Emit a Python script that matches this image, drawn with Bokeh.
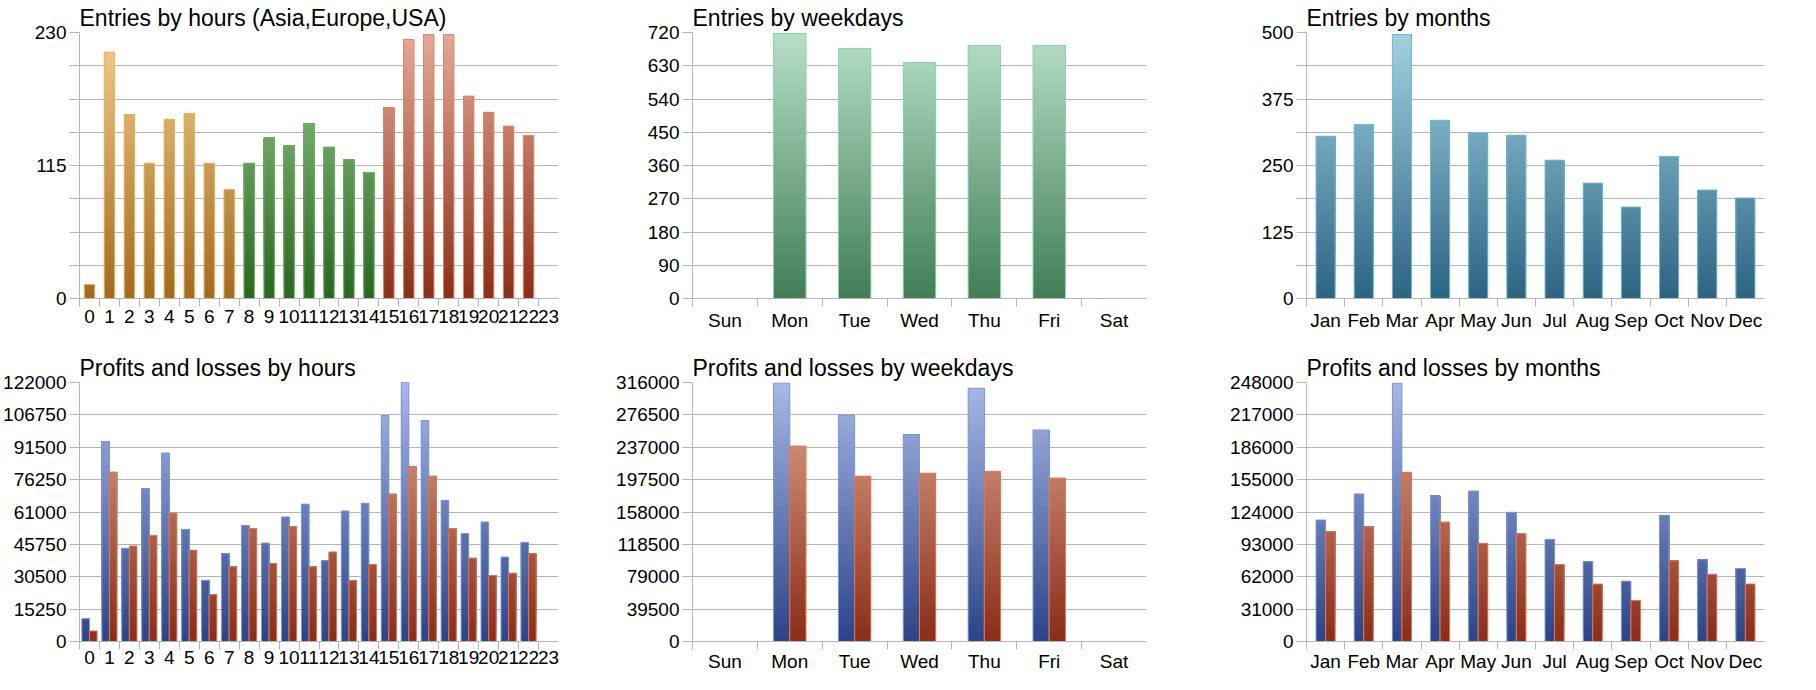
from bokeh.plotting import figure
from bokeh.layouts import row, column
from bokeh.models import FixedTicker, Range1d, BasicTickFormatter
from bokeh.embed import file_html
from bokeh.resources import INLINE

# data
hours = [str(h) for h in range(24)]
hour_zone = ["Asia"] * 8 + ["Europe"] * 7 + ["USA"] * 9
entries_hours = [12, 213, 159, 117, 155, 160, 117, 94, 117, 139, 132, 151, 131, 120,
                 109, 165, 224, 228, 228, 175, 161, 149, 141, 0]
profit_hours = [10700, 94200, 43900, 72000, 88800, 52800, 28800, 41300, 54600, 46400,
                58700, 64700, 38100, 61500, 65100, 106400, 122000, 104000, 66500, 50900,
                56300, 39800, 46700, 0]
loss_hours = [5000, 79800, 45000, 50000, 60500, 43000, 22000, 35200, 53200, 36800,
              54100, 35200, 42200, 28800, 36300, 69500, 82500, 77900, 53200, 39300,
              31100, 32200, 41300, 0]

weekdays = ["Sun", "Mon", "Tue", "Wed", "Thu", "Fri", "Sat"]
entries_weekdays = [0, 717, 677, 639, 685, 685, 0]
profit_weekdays = [0, 315500, 276200, 252500, 308900, 258100, 0]
loss_weekdays = [0, 238400, 201700, 205300, 207600, 199400, 0]

months = ["Jan", "Feb", "Mar", "Apr", "May", "Jun", "Jul", "Aug", "Sep", "Oct", "Nov", "Dec"]
entries_months = [305, 327, 496, 335, 312, 307, 260, 217, 172, 267, 204, 189]
profit_months = [116300, 141300, 247400, 139500, 144100, 123700, 97700, 76400, 57800,
                 120900, 78200, 69900]
loss_months = [105100, 109800, 162000, 114400, 94000, 103300, 73600, 55000, 39300,
               77300, 64300, 55000]

FONT = "Liberation Sans"
GRID = "#b4b4b4"

# (bottom colour, top colour, outline)
zone_colors = {
    "Asia": ("#a26a1e", "#f3cd8f", "#edb45a"),
    "Europe": ("#2a661e", "#98cc92", "#70b468"),
    "USA": ("#8a2e18", "#e4aa98", "#e08468"),
}
week_color = ("#427d56", "#b6e0c8", "#8ed2ac")
month_color = ("#2d6482", "#a2d2e2", "#6ebcd8")
profit_color = ("#2b4486", "#a8b8e6", "#7c98de")
loss_color = ("#8a2c18", "#e0a990", "#e07a5a")


def mix(c1, c2, f):
    a = [int(c1[i:i + 2], 16) for i in (1, 3, 5)]
    b = [int(c2[i:i + 2], 16) for i in (1, 3, 5)]
    return "#%02x%02x%02x" % tuple(round(x + (y - x) * f) for x, y in zip(a, b))


def grad_bars(p, xs, vals, width, ymax, cols, n=40):
    # vertical gradient tied to the plot height, drawn as overlapping slices
    bx, bb, bt, bc = [], [], [], []
    for k in range(n):
        b = ymax * k / n
        c = mix(cols[0], cols[1], (k + 0.5) / n)
        for x, v in zip(xs, vals):
            if v > b:
                bx.append(x)
                bb.append(b)
                bt.append(v)
                bc.append(c)
    p.vbar(x=bx, width=width, bottom=bb, top=bt, fill_color=bc, line_color=None)
    ox = [x for x, v in zip(xs, vals) if v > 0]
    ov = [v for v in vals if v > 0]
    p.vbar(x=ox, width=width, bottom=0, top=ov, fill_color=None,
           line_color=cols[2], line_width=1)


def make_fig(title, labels, ymax, nlines, every, w, bl, br, h, bt, bb, xs):
    n = len(labels)
    p = figure(width=w, height=h, output_backend="svg", toolbar_location=None,
               x_range=Range1d(0, n), y_range=Range1d(0, ymax),
               min_border_left=bl, min_border_right=br,
               min_border_top=bt, min_border_bottom=bb)
    p.title.text = title
    p.title.text_font = FONT
    p.title.text_font_size = "23px"
    p.title.text_font_style = "normal"
    p.title.text_color = "#000000"
    p.title.standoff = 3
    p.outline_line_color = None
    p.background_fill_color = "white"
    p.border_fill_color = "white"

    step = ymax / nlines
    vals = [step * k for k in range(nlines + 1)]
    vals = [int(v) if float(v).is_integer() else v for v in vals]
    major = [v for k, v in enumerate(vals) if k % every == 0]
    minor = [v for k, v in enumerate(vals) if k % every != 0]
    yt = FixedTicker(ticks=major, minor_ticks=minor)
    ya = p.yaxis[0]
    ya.ticker = yt
    ya.formatter = BasicTickFormatter(use_scientific=False)
    ya.axis_line_color = GRID
    ya.major_tick_line_color = GRID
    ya.minor_tick_line_color = GRID
    ya.major_tick_out = 10
    ya.minor_tick_out = 10
    ya.major_tick_in = 0
    ya.minor_tick_in = 0
    ya.major_label_standoff = 3
    ya.major_label_text_font = FONT
    ya.major_label_text_font_size = "19px"
    ya.major_label_text_color = "#000000"
    p.ygrid.ticker = yt
    p.ygrid.grid_line_color = GRID
    p.ygrid.minor_grid_line_color = GRID
    p.xgrid.visible = False

    centers = [i + 0.5 for i in range(n)]
    xa = p.xaxis[0]
    xa.ticker = FixedTicker(ticks=centers, minor_ticks=list(range(n)))
    xa.major_label_overrides = {c: lab for c, lab in zip(centers, labels)}
    xa.axis_line_color = GRID
    xa.major_tick_line_color = None
    xa.major_tick_out = 8
    xa.major_tick_in = 0
    xa.minor_tick_line_color = GRID
    xa.minor_tick_out = 8
    xa.minor_tick_in = 0
    xa.major_label_standoff = xs
    xa.major_label_text_font = FONT
    xa.major_label_text_font_size = "19px"
    xa.major_label_text_color = "#000000"
    return p


TOP = dict(h=338, bt=32, bb=40, xs=3)
BOT = dict(h=336, bt=44, bb=26, xs=1)
COL1 = dict(w=568, bl=79, br=10)
COL2 = dict(w=588, bl=124, br=10)
COL3 = dict(w=634, bl=150, br=26)

# entries by hours
p1 = make_fig("Entries by hours (Asia,Europe,USA)", hours, 230, 8, 4, **COL1, **TOP)
for zone in ["Asia", "Europe", "USA"]:
    xs = [i + 0.5 for i, z in enumerate(hour_zone) if z == zone]
    vs = [v for v, z in zip(entries_hours, hour_zone) if z == zone]
    grad_bars(p1, xs, vs, 0.52, 230, zone_colors[zone])

# entries by weekdays
p2 = make_fig("Entries by weekdays", weekdays, 720, 8, 1, **COL2, **TOP)
grad_bars(p2, [i + 0.5 for i in range(7)], entries_weekdays, 0.5, 720, week_color)

# entries by months
p3 = make_fig("Entries by months", months, 500, 8, 2, **COL3, **TOP)
grad_bars(p3, [i + 0.5 for i in range(12)], entries_months, 0.5, 500, month_color)

# profits and losses by hours
p4 = make_fig("Profits and losses by hours", hours, 122000, 8, 1, **COL1, **BOT)
grad_bars(p4, [i + 0.31 for i in range(24)], profit_hours, 0.38, 122000, profit_color)
grad_bars(p4, [i + 0.69 for i in range(24)], loss_hours, 0.38, 122000, loss_color)

# profits and losses by weekdays
p5 = make_fig("Profits and losses by weekdays", weekdays, 316000, 8, 1, **COL2, **BOT)
grad_bars(p5, [i + 0.375 for i in range(7)], profit_weekdays, 0.25, 316000, profit_color)
grad_bars(p5, [i + 0.625 for i in range(7)], loss_weekdays, 0.25, 316000, loss_color)

# profits and losses by months
p6 = make_fig("Profits and losses by months", months, 248000, 8, 1, **COL3, **BOT)
grad_bars(p6, [i + 0.375 for i in range(12)], profit_months, 0.25, 248000, profit_color)
grad_bars(p6, [i + 0.625 for i in range(12)], loss_months, 0.25, 248000, loss_color)

layout = column(row(p1, p2, p3), row(p4, p5, p6))
open("out.html", "w").write(file_html(layout, INLINE))
